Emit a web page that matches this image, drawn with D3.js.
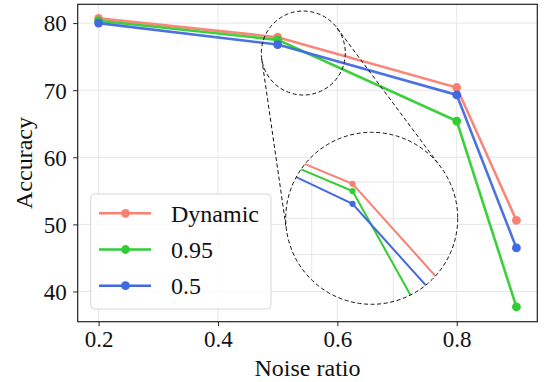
<!DOCTYPE html>
<html>
<head>
<meta charset="utf-8">
<script src="https://cdn.jsdelivr.net/npm/d3@7"></script>
<style>
  html, body { margin: 0; padding: 0; background: #fff; }
  svg { display: block; }
  svg text { font-family: "Liberation Serif", "Times New Roman", serif !important; fill: #111; }
</style>
</head>
<body>
<svg id="chart" width="545" height="382"></svg>
<script>
// ---- data ----
const noiseRatios = [0.2, 0.5, 0.8, 0.9];
const dynamicAcc  = [80.7, 77.9, 70.4, 50.6];
const fixed095Acc = [80.35, 77.5, 65.4, 37.7];
const fixed05Acc  = [80.0, 76.8, 69.3, 46.5];
const seriesNames = ["Dynamic", "0.95", "0.5"];
const seriesColors = ["#FA8072", "#32CD32", "#4169E1"];
const xTicks = [0.2, 0.4, 0.6, 0.8];
const yTicks = [40, 50, 60, 70, 80];
const insetXTicks = [0.4, 0.6];
const insetYTicks = [74, 76, 78];

const series = [dynamicAcc, fixed095Acc, fixed05Acc].map((vals, i) => ({
  name: seriesNames[i], color: seriesColors[i],
  points: noiseRatios.map((x, j) => ({ x, y: vals[j] }))
}));

const FONT = '"Liberation Serif", "Times New Roman", serif';

// ---- layout ----
const L = 77.7, R = 537.3, T = 4.3, B = 321.7;
const svg = d3.select("#chart");

const x = d3.scaleLinear().domain([0.165, 0.935]).range([L, R]);
const y = d3.scaleLinear().domain([35.5, 82.8]).range([B, T]);

// grid
const grid = svg.append("g");
grid.selectAll(".gx").data(xTicks).join("line")
  .attr("x1", d => x(d)).attr("x2", d => x(d)).attr("y1", T).attr("y2", B)
  .attr("stroke", "#e6e6e6").attr("stroke-width", 1);
grid.selectAll(".gy").data(yTicks).join("line")
  .attr("y1", d => y(d)).attr("y2", d => y(d)).attr("x1", L).attr("x2", R)
  .attr("stroke", "#e6e6e6").attr("stroke-width", 1);

// axes
const xAxis = d3.axisBottom(x).tickValues(xTicks).tickFormat(d3.format(".1f")).tickSize(4.5).tickPadding(3.5);
const yAxis = d3.axisLeft(y).tickValues(yTicks).tickFormat(d3.format("d")).tickSize(4.5).tickPadding(6.5);
const gx = svg.append("g").attr("transform", `translate(0,${B})`).call(xAxis);
const gy = svg.append("g").attr("transform", `translate(${L},0)`).call(yAxis);
[gx, gy].forEach(g => {
  g.attr("font-family", FONT).attr("font-size", 23);
  g.select(".domain").remove();
  g.selectAll(".tick line").attr("stroke", "#222").attr("stroke-width", 1);
  g.selectAll(".tick text").style("font-family", FONT).attr("font-size", 23).attr("fill", "#111");
});
gx.selectAll(".tick text").attr("dy", "0.75em");
gy.selectAll(".tick text").attr("dy", "0.34em");

svg.append("rect").attr("x", L).attr("y", T).attr("width", R - L).attr("height", B - T)
  .attr("fill", "none").attr("stroke", "#222").attr("stroke-width", 1.2);

// axis titles
svg.append("text").attr("x", (L + R) / 2).attr("y", 376).attr("text-anchor", "middle")
  .style("font-family", FONT).attr("font-size", 24).text("Noise ratio");
svg.append("text").attr("transform", `translate(32,${(T + B) / 2}) rotate(-90)`)
  .attr("text-anchor", "middle").style("font-family", FONT).attr("font-size", 24).text("Accuracy");

// main lines
const line = d3.line().x(d => x(d.x)).y(d => y(d.y));
const main = svg.append("g");
series.forEach(s => {
  main.append("path").datum(s.points).attr("d", line)
    .attr("fill", "none").attr("stroke", s.color).attr("stroke-width", 2.6).attr("stroke-opacity", 0.95);
  main.selectAll(null).data(s.points).join("circle")
    .attr("cx", d => x(d.x)).attr("cy", d => y(d.y)).attr("r", 4.4).attr("fill", s.color);
});

// ---- zoom inset ----
const smallC = { cx: x(0.543), cy: y(75.54), r: 42 };
const bigC = { cx: 371.7, cy: 218.3, r: 86 };
const insetCenter = { x: 0.547, y: 76.0 };
const insetSx = 408, insetSy = 18.15;
const xi = d3.scaleLinear()
  .domain([insetCenter.x - bigC.r / insetSx, insetCenter.x + bigC.r / insetSx])
  .range([bigC.cx - bigC.r, bigC.cx + bigC.r]);
const yi = d3.scaleLinear()
  .domain([insetCenter.y - bigC.r / insetSy, insetCenter.y + bigC.r / insetSy])
  .range([bigC.cy + bigC.r, bigC.cy - bigC.r]);

// tangent connector lines (external tangents)
const dx = bigC.cx - smallC.cx, dy = bigC.cy - smallC.cy;
const Ld = Math.hypot(dx, dy), phi = Math.atan2(dy, dx);
const a = Math.acos((bigC.r - smallC.r) / Ld);
const dash = "4,2.6";
[phi + a, phi - a].forEach(th => {
  const nx = Math.cos(th), ny = Math.sin(th);
  svg.append("line")
    .attr("x1", smallC.cx - smallC.r * nx).attr("y1", smallC.cy - smallC.r * ny)
    .attr("x2", bigC.cx - bigC.r * nx).attr("y2", bigC.cy - bigC.r * ny)
    .attr("stroke", "#111").attr("stroke-width", 1).attr("stroke-dasharray", dash);
});

svg.append("circle").attr("cx", smallC.cx).attr("cy", smallC.cy).attr("r", smallC.r)
  .attr("fill", "none").attr("stroke", "#111").attr("stroke-width", 1).attr("stroke-dasharray", dash);

svg.append("defs").append("clipPath").attr("id", "insetClip")
  .append("circle").attr("cx", bigC.cx).attr("cy", bigC.cy).attr("r", bigC.r);

svg.append("circle").attr("cx", bigC.cx).attr("cy", bigC.cy).attr("r", bigC.r).attr("fill", "#fff");
const inset = svg.append("g").attr("clip-path", "url(#insetClip)");
inset.selectAll(".igx").data(insetXTicks).join("line")
  .attr("x1", d => xi(d)).attr("x2", d => xi(d)).attr("y1", bigC.cy - bigC.r).attr("y2", bigC.cy + bigC.r)
  .attr("stroke", "#e6e6e6").attr("stroke-width", 1);
inset.selectAll(".igy").data(insetYTicks).join("line")
  .attr("y1", d => yi(d)).attr("y2", d => yi(d)).attr("x1", bigC.cx - bigC.r).attr("x2", bigC.cx + bigC.r)
  .attr("stroke", "#e6e6e6").attr("stroke-width", 1);
const lineI = d3.line().x(d => xi(d.x)).y(d => yi(d.y));
series.forEach(s => {
  inset.append("path").datum(s.points).attr("d", lineI)
    .attr("fill", "none").attr("stroke", s.color).attr("stroke-width", 2);
  inset.selectAll(null).data(s.points).join("circle")
    .attr("cx", d => xi(d.x)).attr("cy", d => yi(d.y)).attr("r", 3.1).attr("fill", s.color);
});
svg.append("circle").attr("cx", bigC.cx).attr("cy", bigC.cy).attr("r", bigC.r)
  .attr("fill", "none").attr("stroke", "#111").attr("stroke-width", 1).attr("stroke-dasharray", dash);

// ---- legend ----
const lg = svg.append("g");
lg.append("rect").attr("x", 90.7).attr("y", 194).attr("width", 180.3).attr("height", 115)
  .attr("rx", 4).attr("fill", "#fff").attr("fill-opacity", 0.8)
  .attr("stroke", "#d6d6d6").attr("stroke-width", 1);
series.forEach((s, i) => {
  const yy = 213.3 + i * 36.2;
  lg.append("line").attr("x1", 99).attr("x2", 151).attr("y1", yy).attr("y2", yy)
    .attr("stroke", s.color).attr("stroke-width", 2.6);
  lg.append("circle").attr("cx", 125.5).attr("cy", yy).attr("r", 4.4).attr("fill", s.color);
  lg.append("text").attr("x", 171).attr("y", yy + 8.2).style("font-family", FONT)
    .attr("font-size", 24).text(s.name);
});
</script>
</body>
</html>
